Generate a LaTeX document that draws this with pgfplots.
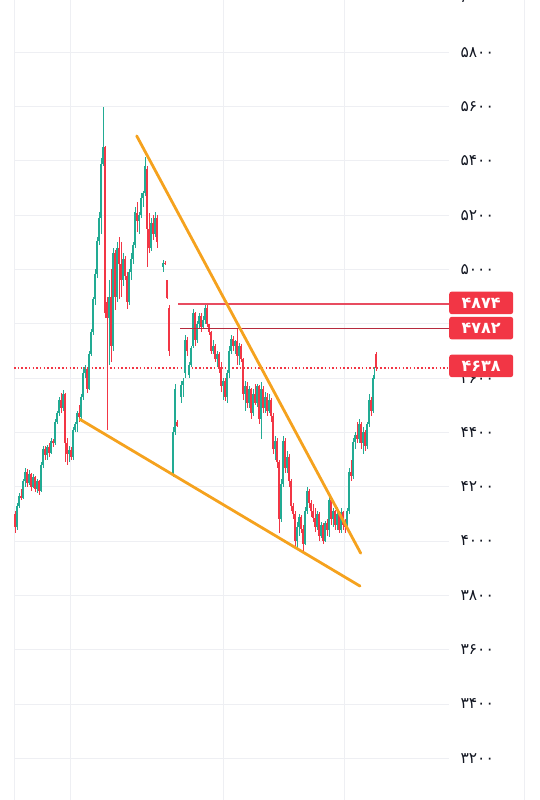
\documentclass[border=0pt]{standalone}
\usepackage{pgfplots}
\pgfplotsset{compat=1.18}
\usepackage{pgfplotstable}
\usepackage{fontspec}
\newfontfamily\fa[Script=Arabic]{DejaVu Sans}
\definecolor{tvgreen}{RGB}{34,171,148}
\definecolor{tvred}{RGB}{242,54,69}
\definecolor{gridc}{RGB}{238,239,243}
\definecolor{orng}{RGB}{245,162,30}
\definecolor{lineA}{RGB}{232,76,96}
\definecolor{lineB}{RGB}{182,42,62}
\definecolor{txt}{RGB}{19,23,34}

% up candles: x open high low close
\pgfplotstableread{
x o h l c
17 4050 4140 4040 4130
19 4130 4175 4120 4165
23 4160 4230 4155 4220
25 4220 4270 4200 4255
29 4215 4260 4205 4245
33 4200 4245 4195 4235
37 4190 4230 4175 4220
41 4185 4290 4180 4280
43 4280 4350 4270 4340
47 4315 4355 4300 4345
51 4325 4380 4320 4370
55 4360 4450 4355 4440
57 4440 4480 4430 4470
59 4470 4530 4460 4520
63 4490 4555 4480 4540
69 4320 4350 4290 4335
73 4310 4420 4300 4410
75 4410 4440 4400 4430
77 4430 4480 4400 4470
81 4455 4540 4440 4530
83 4530 4640 4520 4620
85 4620 4650 4600 4635
89 4560 4700 4555 4690
91 4690 4780 4680 4770
93 4770 4900 4760 4890
95 4890 5000 4870 4985
97 4985 5120 4970 5105
99 5105 5210 5090 5190
101 5190 5410 5130 5390
103 5390 5600 5380 5450
109 4820 4960 4650 4900
113 4720 5080 4700 5060
117 4900 5100 4880 5080
123 4960 5060 4940 5040
129 4880 5000 4870 4990
131 4990 5060 4960 5040
133 5040 5100 5020 5090
135 5090 5230 5080 5210
139 5180 5210 5130 5200
141 5200 5280 5190 5265
143 5265 5290 5230 5280
145 5280 5415 5270 5380
151 5080 5190 5070 5170
155 5130 5210 5120 5190
163 5010 5035 4990 5025
173 4240 4420 4236 4400
175 4400 4580 4390 4560
181 4530 4590 4510 4575
183 4575 4600 4530 4590
185 4620 4760 4600 4740
189 4610 4660 4600 4650
191 4650 4720 4640 4710
193 4720 4855 4710 4840
197 4740 4810 4730 4800
199 4800 4840 4780 4830
203 4790 4830 4780 4815
205 4815 4878 4800 4860
213 4700 4740 4690 4720
217 4670 4700 4640 4690
223 4570 4600 4520 4590
227 4530 4630 4510 4620
229 4620 4720 4600 4700
231 4700 4760 4690 4745
235 4720 4740 4690 4735
239 4680 4730 4650 4720
245 4540 4590 4480 4570
249 4510 4570 4490 4560
253 4470 4560 4460 4540
257 4510 4580 4495 4570
261 4450 4585 4375 4560
265 4490 4550 4470 4530
269 4480 4540 4470 4520
275 4340 4385 4300 4370
281 4080 4230 4070 4210
283 4210 4385 4200 4370
287 4270 4330 4250 4310
297 4000 4070 3970 4050
299 4050 4100 4020 4090
305 3990 4125 3985 4110
307 4110 4200 4100 4185
317 4050 4110 4040 4100
321 4020 4070 4010 4060
325 4000 4075 3995 4065
329 4040 4165 4015 4150
333 4080 4120 4050 4110
337 4060 4125 4040 4100
341 4040 4120 4030 4105
347 4050 4120 4040 4110
349 4110 4270 4100 4255
353 4240 4380 4230 4365
355 4365 4400 4340 4390
359 4375 4450 4360 4430
363 4360 4420 4320 4400
367 4350 4440 4340 4430
369 4430 4540 4420 4520
373 4480 4610 4470 4600
374.5 4600 4640 4595 4630
}\up

% down candles
\pgfplotstableread{
x o h l c
15 4100 4110 4030 4050
21 4165 4190 4150 4160
27 4255 4265 4200 4215
31 4245 4250 4185 4200
35 4235 4240 4180 4190
39 4220 4225 4170 4185
45 4340 4350 4300 4315
49 4345 4360 4310 4325
53 4370 4375 4345 4360
61 4520 4545 4470 4490
65 4540 4545 4290 4360
67 4360 4380 4280 4320
71 4335 4345 4300 4310
79 4470 4500 4440 4455
87 4635 4640 4545 4560
105 5450 5455 4820 4840
107 4880 4900 4410 4820
111 4900 5000 4660 4720
115 5060 5070 4850 4900
119 5080 5120 4890 5020
121 5020 5100 4900 4960
125 5040 5050 4960 4975
127 4975 4990 4855 4880
137 5210 5250 5140 5180
147 5370 5380 5010 5150
149 5150 5210 5060 5080
153 5170 5200 5110 5130
157 5190 5200 5080 5100
165 5025 5030 5015 5020
167 4960 4960 4890 4895
169 4860 4870 4680 4700
177 4440 4445 4420 4425
187 4740 4750 4680 4700
195 4840 4845 4720 4740
201 4830 4840 4770 4790
207 4860 4870 4790 4800
209 4800 4800 4760 4770
211 4770 4775 4690 4700
215 4720 4725 4660 4670
219 4690 4695 4620 4640
221 4640 4660 4550 4570
225 4590 4600 4515 4530
233 4745 4755 4700 4720
237 4735 4785 4650 4680
241 4720 4725 4660 4670
243 4670 4675 4520 4540
247 4570 4585 4490 4510
251 4560 4565 4450 4470
255 4540 4580 4500 4510
259 4570 4575 4430 4450
263 4560 4570 4470 4490
267 4530 4545 4460 4480
271 4520 4525 4440 4460
273 4460 4470 4320 4340
277 4370 4380 4270 4290
279 4290 4300 4030 4080
285 4370 4380 4250 4270
289 4310 4320 4200 4220
291 4220 4230 4110 4130
293 4130 4140 4080 4100
295 4100 4110 3975 4000
301 4090 4095 4030 4045
303 4045 4060 3960 3990
309 4185 4190 4120 4140
311 4140 4150 4090 4110
313 4110 4135 4070 4085
315 4085 4120 4035 4050
319 4100 4105 4000 4020
323 4060 4065 3990 4000
327 4065 4080 4020 4040
331 4150 4155 4060 4080
335 4110 4115 4040 4060
339 4100 4110 4030 4040
343 4105 4110 4040 4060
345 4060 4080 4030 4050
351 4255 4300 4220 4240
357 4390 4440 4360 4375
361 4430 4440 4340 4360
365 4400 4410 4330 4350
371 4520 4530 4460 4480
376 4690 4695 4625 4638
}\down

\pgfplotsset{
  wick/.style={draw=none, mark=none, forget plot,
    error bars/.cd, y dir=both, y explicit, error mark=none,
    error bar style={draw=#1, line width=0.85pt}},
  body/.style={draw=none, mark=none, forget plot,
    error bars/.cd, y dir=both, y explicit, error mark=none,
    error bar style={draw=#1, line width=1.9pt}},
}
\tikzset{ticklab/.style={font=\fa\fontsize{15.5}{18}\selectfont, text=txt}}

\begin{document}
\begin{tikzpicture}
\begin{axis}[
  scale only axis, width=435pt, height=800pt,
  xmin=14, xmax=449, ymin=3046.1, ymax=5992.6,
  clip=false,
  axis line style={draw=none}, tick style={draw=none},
  xtick={14.5,70,223.3,344.3}, xticklabels={},
  ytick={3200,3400,...,5800},
  yticklabels={۳۲۰۰,۳۴۰۰,۳۶۰۰,۳۸۰۰,۴۰۰۰,۴۲۰۰,۴۴۰۰,۴۶۰۰,۴۸۰۰,۵۰۰۰,۵۲۰۰,۵۴۰۰,۵۶۰۰,۵۸۰۰},
  yticklabel pos=right,
  yticklabel style={ticklab, anchor=west, xshift=8pt},
  grid=major, major grid style={draw=gridc, line width=0.8pt},
]
% dotted last price line
\addplot[tvred, line width=1.6pt, dash pattern=on 1.5pt off 2.2pt, mark=none] coordinates {(14,4638) (449,4638)};
% candles
\addplot[wick=tvgreen] table[x=x, y expr={(\thisrow{h}+\thisrow{l})/2}, y error expr={(\thisrow{h}-\thisrow{l})/2}] {\up};
\addplot[body=tvgreen] table[x=x, y expr={(\thisrow{o}+\thisrow{c})/2}, y error expr={(\thisrow{c}-\thisrow{o})/2}] {\up};
\addplot[wick=tvred] table[x=x, y expr={(\thisrow{h}+\thisrow{l})/2}, y error expr={(\thisrow{h}-\thisrow{l})/2}] {\down};
\addplot[body=tvred] table[x=x, y expr={(\thisrow{o}+\thisrow{c})/2}, y error expr={(\thisrow{o}-\thisrow{c})/2}] {\down};
% horizontal levels
\addplot[lineA, line width=1.6pt, mark=none] coordinates {(178,4874) (449,4874)};
\addplot[lineB, line width=1.6pt, mark=none] coordinates {(180,4782) (449,4782)};
% wedge lines
\addplot[orng, line width=2.8pt, line cap=round, mark=none] coordinates {(136.7,5492) (360.7,3955)};
\addplot[orng, line width=2.8pt, line cap=round, mark=none] coordinates {(80,4448) (360,3834)};
% right border grid line
\draw[gridc, line width=0.8pt] (axis cs:524,3046.1) -- (axis cs:524,5992.6);
\node[ticklab, anchor=west, xshift=8pt] at (axis cs:449,6000) {۶۰۰۰};
\coordinate (b1) at (axis cs:449,4877);
\coordinate (b2) at (axis cs:449,4784);
\coordinate (b3) at (axis cs:449,4645);
\end{axis}
\foreach \p/\t in {b1/۴۸۷۴, b2/۴۷۸۲, b3/۴۶۳۸}{
  \node[fill=tvred, text=white, rounded corners=2.5pt, anchor=west,
        minimum width=64pt, minimum height=22.5pt, inner sep=0pt,
        font=\fa\bfseries\fontsize{16}{19}\selectfont] at (\p) {\t};
}
\pgfresetboundingbox
\path[use as bounding box] (-14pt,0pt) rectangle (525pt,800pt);
\end{tikzpicture}
\end{document}
